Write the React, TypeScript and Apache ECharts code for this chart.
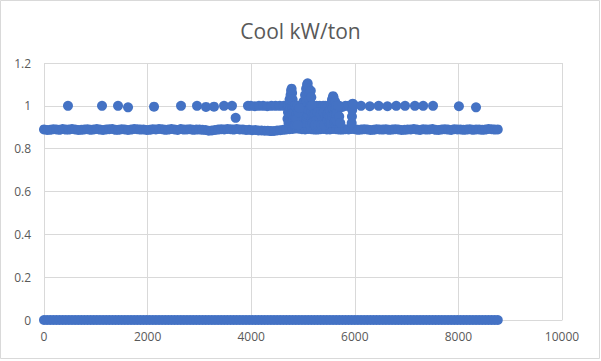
import React, { useEffect, useRef } from "react";
import * as echarts from "echarts";

// Hours of the year sampled along the dense rows
const hourX = [
  0, 60, 120, 180, 240, 300, 360, 420, 480, 540,
  600, 660, 720, 780, 840, 900, 960, 1020, 1080, 1140,
  1200, 1260, 1320, 1380, 1440, 1500, 1560, 1620, 1680, 1740,
  1800, 1860, 1920, 1980, 2040, 2100, 2160, 2220, 2280, 2340,
  2400, 2460, 2520, 2580, 2640, 2700, 2760, 2820, 2880, 2940,
  3000, 3060, 3120, 3180, 3240, 3300, 3360, 3420, 3480, 3540,
  3600, 3660, 3720, 3780, 3840, 3900, 3960, 4020, 4080, 4140,
  4200, 4260, 4320, 4380, 4440, 4500, 4560, 4620, 4680, 4740,
  4800, 4860, 4920, 4980, 5040, 5100, 5160, 5220, 5280, 5340,
  5400, 5460, 5520, 5580, 5640, 5700, 5760, 5820, 5880, 5940,
  6000, 6060, 6120, 6180, 6240, 6300, 6360, 6420, 6480, 6540,
  6600, 6660, 6720, 6780, 6840, 6900, 6960, 7020, 7080, 7140,
  7200, 7260, 7320, 7380, 7440, 7500, 7560, 7620, 7680, 7740,
  7800, 7860, 7920, 7980, 8040, 8100, 8160, 8220, 8280, 8340,
  8400, 8460, 8520, 8580, 8640, 8700, 8760,
];

// Main band (~0.89 kW/ton)
const bandY = [
  0.89, 0.887, 0.888, 0.891, 0.89, 0.888, 0.892, 0.889, 0.889, 0.892,
  0.89, 0.887, 0.888, 0.89, 0.891, 0.888, 0.89, 0.892, 0.889, 0.887,
  0.89, 0.891, 0.892, 0.888, 0.888, 0.891, 0.89, 0.887, 0.889, 0.892,
  0.891, 0.889, 0.89, 0.887, 0.888, 0.891, 0.89, 0.892, 0.891, 0.888,
  0.889, 0.892, 0.89, 0.887, 0.892, 0.889, 0.89, 0.891, 0.888, 0.889,
  0.89, 0.888, 0.887, 0.884, 0.885, 0.887, 0.889, 0.891, 0.89, 0.892,
  0.891, 0.889, 0.892, 0.89, 0.89, 0.887, 0.888, 0.886, 0.887, 0.885,
  0.885, 0.884, 0.884, 0.882, 0.883, 0.885, 0.886, 0.888, 0.89, 0.891,
  0.892, 0.894, 0.893, 0.891, 0.89, 0.892, 0.891, 0.889, 0.889, 0.891,
  0.892, 0.89, 0.89, 0.892, 0.891, 0.889, 0.889, 0.891, 0.89, 0.892,
  0.891, 0.888, 0.889, 0.891, 0.89, 0.887, 0.888, 0.891, 0.89, 0.889,
  0.891, 0.888, 0.889, 0.891, 0.89, 0.887, 0.888, 0.89, 0.89, 0.892,
  0.889, 0.887, 0.891, 0.889, 0.89, 0.892, 0.888, 0.887, 0.89, 0.891,
  0.889, 0.887, 0.891, 0.89, 0.89, 0.888, 0.889, 0.891, 0.888, 0.89,
  0.89, 0.888, 0.889, 0.892, 0.891, 0.889, 0.89,
];

// Zero row (chiller off)
const zeroY = [
  0, 0, 0, 0, 0, 0, 0, 0, 0, 0,
  0, 0, 0, 0, 0, 0, 0, 0, 0, 0,
  0, 0, 0, 0, 0, 0, 0, 0, 0, 0,
  0, 0, 0, 0, 0, 0, 0, 0, 0, 0,
  0, 0, 0, 0, 0, 0, 0, 0, 0, 0,
  0, 0, 0, 0, 0, 0, 0, 0, 0, 0,
  0, 0, 0, 0, 0, 0, 0, 0, 0, 0,
  0, 0, 0, 0, 0, 0, 0, 0, 0, 0,
  0, 0, 0, 0, 0, 0, 0, 0, 0, 0,
  0, 0, 0, 0, 0, 0, 0, 0, 0, 0,
  0, 0, 0, 0, 0, 0, 0, 0, 0, 0,
  0, 0, 0, 0, 0, 0, 0, 0, 0, 0,
  0, 0, 0, 0, 0, 0, 0, 0, 0, 0,
  0, 0, 0, 0, 0, 0, 0, 0, 0, 0,
  0, 0, 0, 0, 0, 0, 0,
];

// Scattered higher readings
const upperX = [
  463, 1120, 1429, 1622, 2124, 2645, 2954, 3127, 3282, 3475, 3629, 3700,
  3938, 3990, 4070, 4150, 4230, 4310, 4390, 4470, 4550, 4630, 4700,
  5200, 5230, 5260, 5290, 5320, 5350, 5390, 5430, 5470,
  5700, 5760, 5820, 5880,
  5940, 5945, 5950, 5960, 5980,
  6120, 6290, 6460, 6630, 6800, 6970, 7160, 7320, 7510, 8010, 8340,
];
const upperY = [
  1.0, 1.0, 1.0, 0.993, 0.996, 1.0, 1.0, 0.995, 0.996, 1.0, 1.0, 0.944,
  1.0, 1.0, 0.998, 1.0, 1.0, 0.998, 1.0, 1.0, 1.0, 1.0, 1.0,
  1.0, 0.99, 1.0, 0.98, 1.0, 0.99, 1.0, 1.0, 0.99,
  1.0, 0.995, 1.0, 1.0,
  0.92, 0.95, 0.98, 1.01, 1.005,
  1.0, 0.998, 1.0, 0.998, 1.0, 1.0, 1.0, 1.0, 1.0, 0.998, 0.993,
];

// Summer clusters (hours ~4700-5700)
const clusterX = [
  4700, 4710, 4720, 4720, 4730, 4740, 4740, 4750, 4750, 4760, 4760, 4760,
  4770, 4770, 4780, 4780, 4790, 4790, 4790, 4800, 4800, 4800, 4810, 4810,
  4820, 4830, 4830, 4840, 4850, 4850, 4860, 4870, 4880, 4900, 4920, 4930,
  4940, 4950, 4960, 4970, 4980, 4990, 5000, 5010, 5020, 5030, 5040, 5040,
  5050, 5060, 5060, 5070, 5080, 5080, 5090, 5090, 5100, 5110, 5110, 5120,
  5130, 5130, 5140, 5150, 5150, 5160, 5160, 5170, 5170, 5180, 5190, 5210,
  5240, 5270, 5300,
  5220, 5250, 5280, 5310, 5340, 5370, 5400, 5430, 5460, 5230, 5290, 5350,
  5410, 5470, 4880, 4900, 4910, 4930,
  5480, 5490, 5500, 5510, 5520, 5530, 5540, 5540, 5560, 5560, 5570, 5580,
  5590, 5590, 5600, 5610, 5620, 5620, 5630, 5640, 5640, 5650, 5660, 5680,
  5700, 5720,
];
const clusterY = [
  0.94, 0.97, 0.92, 1.0, 0.95, 0.98, 1.03, 1.02, 0.95, 1.05, 0.93, 0.99,
  1.07, 0.96, 1.08, 1.02, 1.06, 0.96, 1.0, 1.03, 0.93, 0.99, 0.97, 1.0,
  0.94, 0.91, 0.97, 1.0, 1.0, 0.94, 0.91, 0.96, 0.99, 1.0, 0.97, 0.94,
  0.92, 0.92, 0.98, 0.95, 0.95, 0.99, 0.98, 1.02, 0.95, 0.92, 1.05, 1.0,
  0.97, 1.08, 0.94, 1.02, 1.1, 0.95, 1.105, 1.0, 0.96, 1.08, 0.98, 1.06,
  1.03, 0.95, 0.91, 1.07, 1.0, 1.04, 0.97, 1.0, 0.94, 0.92, 0.96, 0.93,
  0.96, 0.94, 0.97,
  0.96, 0.93, 0.97, 0.94, 0.96, 0.93, 0.97, 0.95, 0.93, 0.91, 0.91, 0.91,
  0.91, 0.96, 0.94, 0.91, 0.97, 0.99,
  0.93, 0.97, 0.95, 0.92, 0.98, 0.95, 1.01, 0.92, 1.03, 0.95, 0.99, 1.045,
  1.04, 1.0, 0.92, 0.96, 1.02, 0.93, 0.99, 0.96, 1.0, 0.93, 0.97, 1.0,
  0.95, 0.92,
];

const xTicks = { min: 0, max: 10000, interval: 2000 };
const yTicks = { min: 0, max: 1.2, interval: 0.2 };

const BLUE = "#4472C4";
const GRID = "#D9D9D9";
const TEXT = "#595959";
const FONT = "Open Sans";

export default function App() {
  const ref = useRef<HTMLDivElement>(null);

  useEffect(() => {
    if (!ref.current) return;
    const chart = echarts.init(ref.current, undefined, { renderer: "svg" });
    const pairs = (xs: number[], ys: number[]) => xs.map((x, i) => [x, ys[i]]);
    const seriesBase = {
      type: "scatter" as const,
      symbol: "circle",
      symbolSize: 10,
      itemStyle: { color: BLUE, opacity: 1 },
      silent: true,
    };
    chart.setOption({
      animation: false,
      backgroundColor: "#ffffff",
      title: {
        text: "Cool kW/ton",
        left: "center",
        top: 15,
        textStyle: {
          fontFamily: FONT,
          fontSize: 21,
          fontWeight: "normal",
          color: TEXT,
        },
      },
      graphic: [
        {
          type: "rect",
          shape: { x: 0.5, y: 0.5, width: 599, height: 358 },
          style: { fill: "none", stroke: GRID, lineWidth: 1 },
          silent: true,
        },
      ],
      grid: { left: 44, right: 39, top: 63, bottom: 41 },
      xAxis: {
        type: "value",
        ...xTicks,
        axisLine: { show: true, lineStyle: { color: GRID } },
        axisTick: { show: false },
        splitLine: { show: true, lineStyle: { color: GRID } },
        axisLabel: {
          color: TEXT,
          fontSize: 12,
          fontFamily: FONT,
          margin: 10,
          formatter: (v: number) => String(v),
        },
      },
      yAxis: {
        type: "value",
        ...yTicks,
        axisLine: { show: false },
        axisTick: { show: false },
        splitLine: { show: true, lineStyle: { color: GRID } },
        axisLabel: {
          color: TEXT,
          fontSize: 12,
          fontFamily: FONT,
          margin: 13,
          formatter: (v: number) => String(Math.round(v * 10) / 10),
        },
      },
      series: [
        { ...seriesBase, name: "zero", data: pairs(hourX, zeroY) },
        { ...seriesBase, name: "band", data: pairs(hourX, bandY) },
        { ...seriesBase, name: "upper", data: pairs(upperX, upperY) },
        { ...seriesBase, name: "cluster", data: pairs(clusterX, clusterY) },
      ],
    });
    return () => chart.dispose();
  }, []);

  return (
    <div
      ref={ref}
      style={{ position: "absolute", left: 0, top: 0, width: 601, height: 361 }}
    />
  );
}
